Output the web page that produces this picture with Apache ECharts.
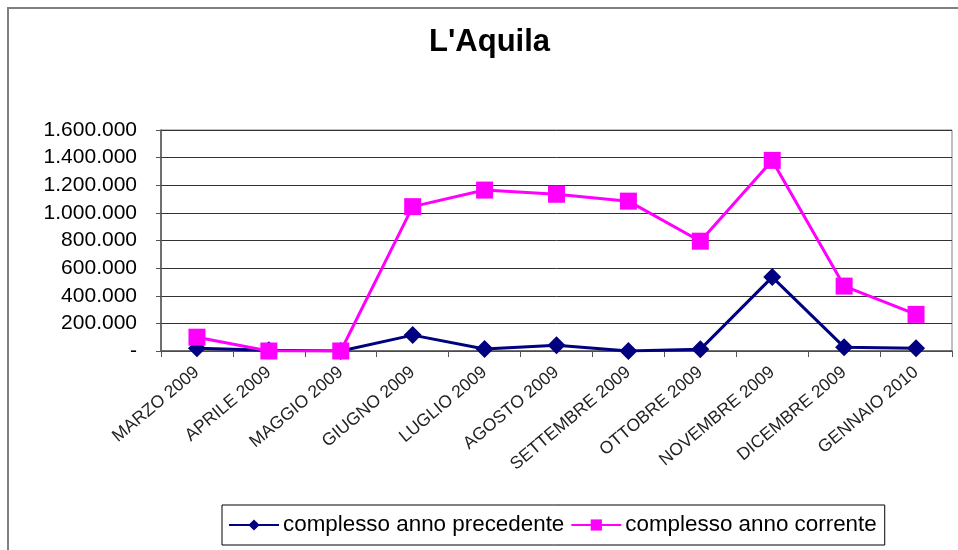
<!DOCTYPE html>
<html>
<head>
<meta charset="utf-8">
<script src="https://cdn.jsdelivr.net/npm/echarts@6/dist/echarts.min.js"></script>
<style>
  html, body { margin: 0; padding: 0; background: #fff; }
  #chart { width: 958px; height: 550px; }
</style>
</head>
<body>
<div id="chart"></div>
<script>
// Mesi (asse x)
const months = [
    'MARZO 2009', 'APRILE 2009', 'MAGGIO 2009', 'GIUGNO 2009', 'LUGLIO 2009',
    'AGOSTO 2009', 'SETTEMBRE 2009', 'OTTOBRE 2009', 'NOVEMBRE 2009',
    'DICEMBRE 2009', 'GENNAIO 2010'
];

// complesso anno precedente (blu)
const prevYear = [20000, 5000, 0, 115000, 15000, 42000, 0, 12000, 535000, 28000, 20000];

// complesso anno corrente (magenta)
const currYear = [100000, 0, 0, 1045000, 1165000, 1135000, 1085000, 795000, 1380000, 470000, 265000];

const FONT = 'Arial, "Liberation Sans", sans-serif';

// 1.600.000 -> formato italiano, zero -> '-'
const fmtIt = v => v === 0 ? '-' : String(v).replace(/\B(?=(\d{3})+(?!\d))/g, '.');

const chart = echarts.init(document.getElementById('chart'), null, { renderer: 'canvas' });

chart.setOption({
    animation: false,
    backgroundColor: '#fff',
    graphic: [{
        type: 'rect',
        shape: { x: 8, y: 8, width: 1000, height: 600 },
        style: { fill: 'none', stroke: '#808080', lineWidth: 2 },
        silent: true
    }],
    title: {
        text: "L'Aquila",
        left: 429,
        top: 27,
        padding: 0,
        textStyle: { fontFamily: FONT, fontSize: 31, fontWeight: 'bold', color: '#000' }
    },
    legend: {
        left: 222,
        top: 505,
        padding: [9, 8, 9, 6],
        itemWidth: 50,
        itemHeight: 14,
        itemGap: 6,
        borderColor: '#000',
        borderWidth: 1,
        textStyle: { fontFamily: FONT, fontSize: 22.4, color: '#000', padding: [0, 0, 0, -1] },
        data: ['complesso anno precedente', 'complesso anno corrente']
    },
    grid: {
        left: 161, right: 6, top: 130, bottom: 199,
        show: true, borderColor: '#808080', borderWidth: 1,
        containLabel: false
    },
    xAxis: {
        type: 'category',
        data: months,
        boundaryGap: true,
        axisLine: { lineStyle: { color: '#555', width: 1.5 } },
        axisTick: { show: true, length: 6, lineStyle: { color: '#555' } },
        axisLabel: {
            interval: 0, rotate: 40, margin: 19,
            fontFamily: FONT, fontSize: 17.5, color: '#222'
        }
    },
    yAxis: {
        type: 'value',
        min: 0, max: 1600000, interval: 200000,
        axisLine: { show: true, lineStyle: { color: '#555', width: 1.5 } },
        axisTick: { show: true, length: 5, lineStyle: { color: '#555' } },
        splitLine: { lineStyle: { color: '#333', width: 1 } },
        axisLabel: {
            margin: 24, formatter: fmtIt,
            fontFamily: FONT, fontSize: 21, color: '#000'
        }
    },
    series: [
        {
            name: 'complesso anno precedente',
            type: 'line',
            data: prevYear,
            symbol: 'diamond',
            symbolSize: 18,
            itemStyle: { color: '#000080' },
            lineStyle: { color: '#000080', width: 3 },
            z: 3
        },
        {
            name: 'complesso anno corrente',
            type: 'line',
            data: currYear,
            symbol: 'rect',
            symbolSize: 17,
            itemStyle: { color: '#FF00FF' },
            lineStyle: { color: '#FF00FF', width: 3 },
            z: 4
        }
    ]
});
</script>
</body>
</html>
